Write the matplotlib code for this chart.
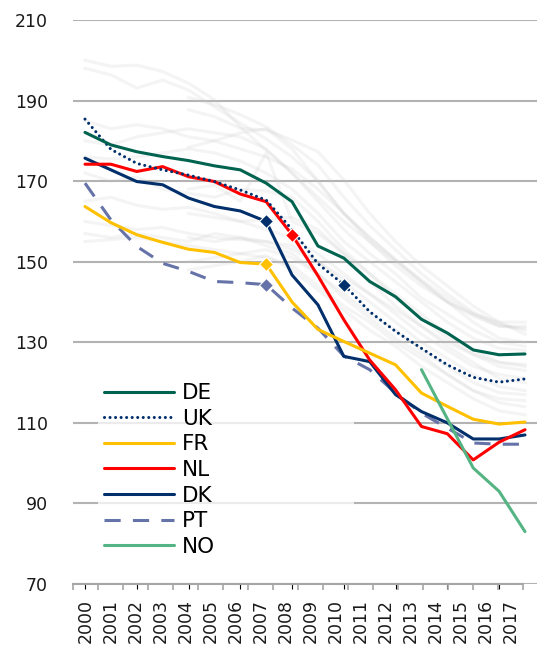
import numpy as np
import matplotlib
matplotlib.use('Agg')
import matplotlib.pyplot as plt

years = [str(y) for y in range(2000, 2018)]

de = [182.1, 179.0, 177.3, 176.1, 175.1, 173.8, 172.8, 169.5, 164.9, 153.9, 150.9, 145.1, 141.3, 135.7, 132.3, 128.1, 126.9, 127.1]
uk = [185.4, 177.9, 174.4, 172.8, 171.5, 169.9, 167.8, 165.3, 158.0, 149.5, 144.3, 137.6, 132.7, 128.5, 124.4, 121.3, 120.1, 120.9]
fr = [163.7, 159.7, 156.7, 154.8, 153.1, 152.3, 149.8, 149.4, 140.0, 133.2, 130.2, 127.3, 124.4, 117.4, 114.1, 110.9, 109.7, 110.2]
nl = [174.2, 174.2, 172.4, 173.6, 171.1, 169.9, 166.8, 164.9, 156.7, 146.5, 135.6, 125.6, 118.2, 109.1, 107.3, 100.8, 105.2, 108.3]
dk = [175.7, 172.8, 169.9, 169.1, 165.8, 163.7, 162.6, 160.0, 146.7, 139.3, 126.5, 125.2, 117.0, 112.8, 110.0, 106.0, 106.0, 107.0]
pt = [169.5, 160.4, 153.8, 149.6, 147.6, 145.1, 144.8, 144.3, 138.5, 133.5, 126.6, 123.2, 117.4, 112.4, 108.7, 105.0, 104.7, 104.7]
no = [None] * 13 + [123.2, 111.0, 98.8, 93.0, 83.0]

# year index of the highlighted diamond for each country
marks = {'UK': 10, 'FR': 7, 'NL': 8, 'DK': 7, 'PT': 7}

# other countries, drawn in light grey behind
others = [
    [200.0, 198.5, 198.8, 197.2, 194.3, 190.2, 183.5, 177.7, 172.0, 166.0, 160.0, 155.0, 150.0, 145.0, 140.0, 136.5, 134.0, 134.0],
    [198.0, 196.4, 193.1, 195.1, 192.6, 188.5, 184.4, 180.5, 176.0, 170.0, 162.0, 156.0, 150.5, 145.5, 141.0, 137.0, 134.0, 133.5],
    [None] * 4 + [190.8, 189.0, 186.5, 183.5, 179.0, 174.0, 166.0, 159.0, 153.0, 147.0, 142.0, 137.5, 134.5, 133.0],
    [None] * 4 + [187.7, 186.0, 183.1, 182.7, 180.2, 177.3, 170.3, 162.0, 155.0, 149.0, 144.0, 139.0, 135.0, 132.0],
    [None] * 4 + [178.4, 180.0, 182.0, 183.0, 178.0, 170.0, 162.0, 156.0, 150.5, 145.0, 140.0, 135.0, 131.0, 130.0],
    [180.0, 179.0, 181.0, 182.0, 183.0, 182.0, 181.0, 178.0, 172.0, 165.0, 158.0, 152.0, 147.0, 141.0, 137.0, 133.0, 130.0, 129.0],
    [176.0, 175.5, 176.0, 177.0, 178.0, 177.0, 175.0, 172.0, 168.0, 162.0, 155.0, 150.0, 145.0, 140.0, 135.0, 131.0, 128.5, 128.0],
    [None] * 4 + [168.0, 169.0, 165.0, 177.0, 160.0, 157.0, 152.0, 147.0, 142.0, 137.0, 132.0, 128.0, 125.0, 124.0],
    [172.0, 170.0, 171.0, 168.0, 167.0, 166.0, 168.0, 167.5, 166.0, 160.0, 153.0, 147.0, 141.0, 136.0, 131.0, 127.0, 124.0, 123.0],
    [165.0, 166.0, 164.0, 163.0, 163.5, 162.0, 160.0, 158.0, 156.0, 152.0, 147.0, 142.0, 137.0, 132.0, 128.0, 124.0, 122.0, 121.0],
    [None] * 4 + [162.0, 161.0, 160.0, 160.5, 161.0, 158.0, 152.0, 145.0, 139.0, 134.0, 129.0, 125.0, 121.0, 120.0],
    [160.0, 159.0, 158.0, 158.5, 157.0, 156.0, 155.5, 155.0, 154.0, 150.0, 145.0, 140.0, 135.0, 130.0, 126.0, 122.0, 119.0, 118.0],
    [157.0, 156.0, 157.0, 156.0, 155.0, 157.0, 156.0, 154.0, 152.0, 147.0, 142.0, 137.0, 133.0, 128.0, 124.0, 120.0, 117.5, 117.0],
    [155.0, 155.5, 156.0, 155.0, 154.0, 153.0, 152.0, 151.0, 149.0, 144.0, 139.0, 135.0, 130.0, 126.0, 122.0, 118.0, 116.0, 115.5],
    [None] * 4 + [150.0, 151.0, 152.0, 153.0, 151.0, 147.0, 141.0, 136.0, 131.0, 127.0, 122.0, 118.0, 115.0, 114.0],
    [None] * 4 + [148.0, 149.0, 150.0, 151.5, 148.0, 143.0, 138.0, 133.0, 129.0, 124.0, 120.0, 116.0, 113.0, 112.0],
    [None] * 4 + [156.0, 155.0, 156.0, 155.0, 153.0, 150.0, 146.0, 142.0, 138.0, 134.0, 130.0, 127.0, 125.0, 124.5],
    [185.0, 183.0, 184.0, 183.0, 181.0, 180.0, 178.0, 176.0, 173.0, 168.0, 162.0, 155.0, 149.0, 144.0, 140.0, 137.0, 135.0, 135.0],
]

plt.rcParams['font.family'] = 'DejaVu Sans'

fig = plt.figure(figsize=(5.37, 6.62), dpi=100)
ax = fig.add_axes([73 / 537, 1 - 584 / 662, 464 / 537, 564 / 662])
x = np.arange(len(years))

def arr(v):
    return np.array([np.nan if a is None else a for a in v], dtype=float)

for s in others:
    ax.plot(x, arr(s), color='#c8c8c8', alpha=0.2, lw=2.2, zorder=1)

series = [
    ('DE', de, '#00634F', '-'),
    ('UK', uk, '#002F6C', (0, (0.01, 1.8))),
    ('FR', fr, '#FFC000', '-'),
    ('NL', nl, '#FF0000', '-'),
    ('DK', dk, '#002F6C', '-'),
    ('PT', pt, '#6673A8', (0, (5.3, 4))),
    ('NO', no, '#55B483', '-'),
]
handles = {}
for name, vals, col, ls in [series[i] for i in (5, 4, 3, 2, 1, 0, 6)]:
    cap = 'round' if name == 'UK' else 'butt'
    ln, = ax.plot(x, arr(vals), color=col, ls=ls, lw=2.2, zorder=3,
                  dash_capstyle=cap, solid_capstyle='round', label=name)
    handles[name] = ln
    if name in marks:
        i = marks[name]
        ax.plot(x[i], vals[i], marker='D', ms=7.5, color=col,
                mec='white', mew=0.8, zorder=4)

ax.set_ylim(70, 210)
ax.set_xlim(-0.464, 17.464)
ax.set_yticks(range(70, 211, 20))
ax.tick_params(axis='y', length=0, pad=18, labelsize=12.5, labelcolor='#1a1a1a')
ax.tick_params(axis='x', bottom=False, labelbottom=False)
ax.yaxis.grid(True, color='#b3b3b3', lw=1.5)
ax.set_axisbelow(True)
for sp in ax.spines.values():
    sp.set_visible(False)

# category axis (tick marks sit between the years)
ax2 = ax.twiny()
ax2.set_xlim(-0.5, 18.06)
ax2.xaxis.set_ticks_position('bottom')
ax2.xaxis.set_label_position('bottom')
ax2.set_xticks(range(len(years)))
ax2.set_xticklabels(years, rotation=90, fontsize=12.5, color='#1a1a1a')
ax2.set_xticks(np.arange(-0.5, 18, 1), minor=True)
ax2.tick_params(axis='x', which='major', length=0, pad=11)
ax2.tick_params(axis='x', which='minor', length=4, width=1.2, color='#a6a6a6')
for k, sp in ax2.spines.items():
    sp.set_visible(k == 'bottom')
ax2.spines['bottom'].set_color('#a6a6a6')
ax2.spines['bottom'].set_linewidth(1.5)
ax2.spines['bottom'].set_bounds(-0.5, 17.5)

order = ['DE', 'UK', 'FR', 'NL', 'DK', 'PT', 'NO']
leg = ax2.legend([handles[n] for n in order], order, loc='upper left',
                 bbox_to_anchor=(87 / 537, 1 - 566 / 662, 278 / 537, 200 / 662),
                 bbox_transform=fig.transFigure, mode='expand',
                 fontsize=15.5, handlelength=3.25, handletextpad=0.37,
                 labelspacing=0.26, borderpad=0.3, frameon=True, fancybox=False)
leg.get_frame().set_facecolor('white')
leg.get_frame().set_edgecolor('none')
leg.get_frame().set_alpha(0.75)

fig.savefig('out.png', dpi=100)
